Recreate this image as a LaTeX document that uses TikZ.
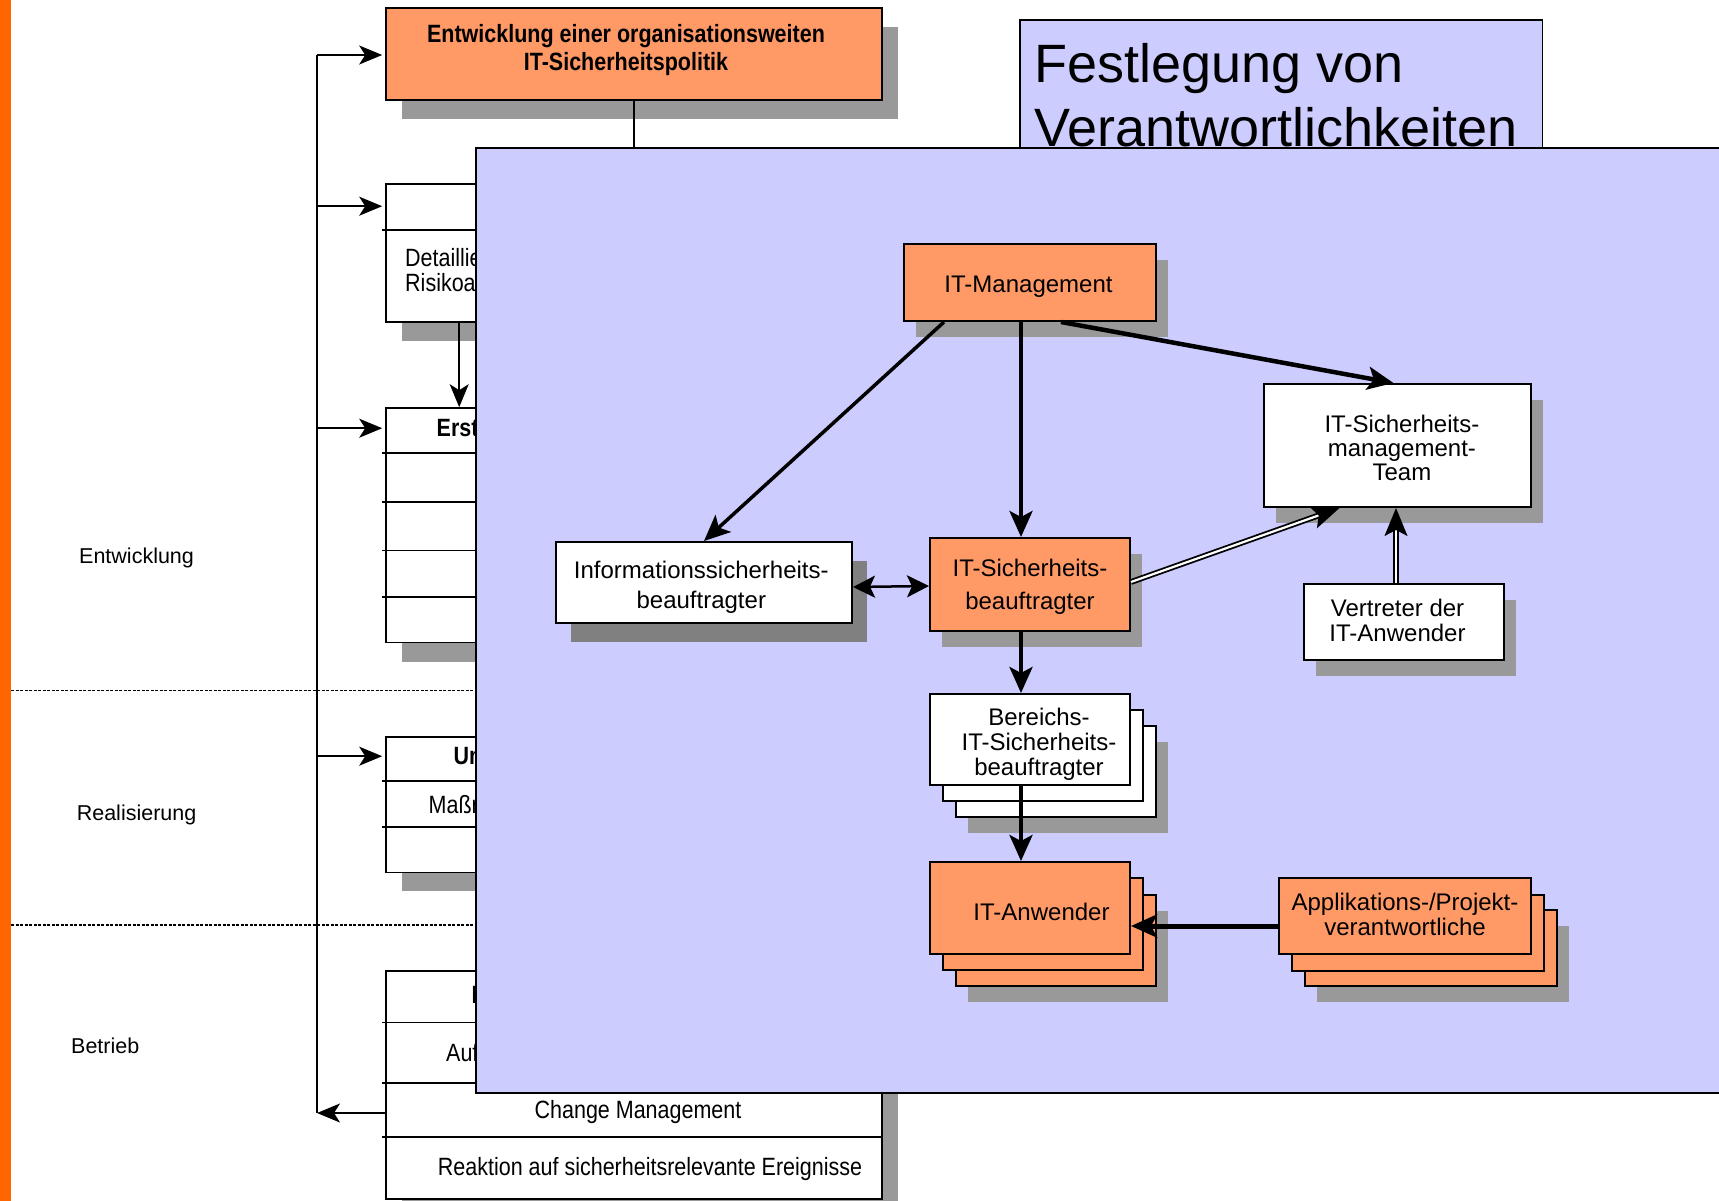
\documentclass[tikz,border=0pt]{standalone}
\usepackage{fontspec}
\setmainfont{Liberation Sans}
\newfontfamily\narrowfont[FakeStretch=0.86]{Liberation Sans}
\usetikzlibrary{arrows.meta,shadows}
\definecolor{panelblue}{HTML}{CCCCFF}
\definecolor{boxorange}{HTML}{FF9966}
\definecolor{barorange}{HTML}{FF6600}
\definecolor{shadowgray}{HTML}{999999}
\definecolor{deepshadow}{HTML}{808080}
\tikzset{
  colbox/.style={draw=black, line width=1.6pt, fill=white, inner sep=0pt,
    minimum width=496pt,
    drop shadow={shadow xshift=16pt, shadow yshift=-19pt, fill=shadowgray, opacity=1}},
  rowline/.style={line width=1.6pt, shorten <=-3pt},
  coltext/.style={inner sep=0pt, font=\narrowfont\fontsize{25}{30}\selectfont},
  colhead/.style={inner sep=0pt, font=\narrowfont\bfseries\fontsize{25}{30}\selectfont},
  phase/.style={inner sep=0pt, anchor=base west, font=\fontsize{21.5}{26}\selectfont},
  spineline/.style={line width=1.6pt},
  thinarrow/.style={line width=1.6pt, -{Stealth[length=23pt, width=19pt, inset=6pt]}},
  phasesep/.style={line width=1.2pt, dash pattern=on 3pt off 1.5pt},
  orgbox/.style={draw=black, line width=2pt, inner sep=0pt},
  orgtext/.style={inner sep=0pt, align=center, font=\fontsize{24}{25}\selectfont},
  withshadow/.style={drop shadow={shadow xshift=12pt, shadow yshift=-16pt, fill=shadowgray, opacity=1}},
  orgarrow/.style={line width=4pt, -{Stealth[length=26pt, width=23pt, inset=6pt]}},
  dblarrow/.style={double=white, double distance=2.2pt, line width=1.8pt,
    -{Stealth[length=28pt, width=23pt, inset=6pt]}},
}
\begin{document}
\begin{tikzpicture}[x=1pt, y=-1pt]
\useasboundingbox (0,0) rectangle (1719,1201);
\clip (0,0) rectangle (1719,1201);
\fill[white] (0,0) rectangle (1719,1201);

% orange margin bar
\fill[barorange] (0,0) rectangle (11,1201);

% phase separators and phase names
\draw[phasesep] (11,690.5) -- (476,690.5);
\draw[phasesep] (11,925) -- (476,925);
\node[phase] (phEnt) at (79,563) {Entwicklung};
\node[phase] (phReal) at (76.6,820.7) {Realisierung};
\node[phase] (phBet) at (71,1053.3) {Betrieb};

% process column
\node[colbox, minimum height=92pt, fill=boxorange] (top) at (634,54) {};
\node[colhead, anchor=base] (ttop1) at (626,42.7) {Entwicklung einer organisationsweiten};
\node[colhead, anchor=base] (ttop2) at (626,71) {IT-Sicherheitspolitik};

\node[colbox, minimum height=138pt] (det) at (634,253) {};
\draw[rowline] (det.west |- 0,230) -- (det.east |- 0,230);
\node[coltext, anchor=base west] (tdet1) at (405,266) {Detaillierte};
\node[coltext, anchor=base west] (tdet2) at (405,291.5) {Risikoanalyse};

\node[colbox, minimum height=234.5pt] (erst) at (634,525.25) {};
\foreach \yy in {452.7,502,550.5,596.8}
  \draw[rowline] (erst.west |- 0,\yy) -- (erst.east |- 0,\yy);
\node[colhead, anchor=base west] (terst) at (436.5,436.7) {Erstellung};

\node[colbox, minimum height=135.4pt] (um) at (634,804.7) {};
\foreach \yy in {780.8,826.7}
  \draw[rowline] (um.west |- 0,\yy) -- (um.east |- 0,\yy);
\node[colhead, anchor=base west] (tum) at (453.5,764) {Umsetzung};
\node[coltext, anchor=base west] (tmass) at (428.5,813.4) {Maßnahmen};

\node[colbox, minimum height=228.2pt] (bet) at (634,1084.9) {};
\foreach \yy in {1022.5,1083,1137}
  \draw[rowline] (bet.west |- 0,\yy) -- (bet.east |- 0,\yy);
\node[colhead, anchor=base west] (tbet) at (471.5,1003) {IT};
\node[coltext, anchor=base west] (tauf) at (446,1061.7) {Aufrechterhaltung};
\node[coltext, anchor=base] (tchg) at (638,1118.3) {Change Management};
\node[coltext, anchor=base] (treak) at (650,1175) {Reaktion auf sicherheitsrelevante Ereignisse};

% feedback loop on the left
\coordinate (spineTop) at (317,55);
\coordinate (spineBot) at (317,1113);
\coordinate (detIn) at ([yshift=-23pt]det.north west);
\coordinate (erstIn) at ([yshift=-21pt]erst.north west);
\coordinate (umIn) at ([yshift=-20pt]um.north west);
\coordinate (betOut) at (bet.west |- spineBot);
\draw[spineline] (spineTop) -- (spineBot);
\draw[thinarrow, shorten >=3pt] (spineTop) -- (spineTop -| top.west);
\draw[thinarrow, shorten >=3pt] (spineTop |- detIn) -- (detIn);
\draw[thinarrow, shorten >=3pt] (spineTop |- erstIn) -- (erstIn);
\draw[thinarrow, shorten >=3pt] (spineTop |- umIn) -- (umIn);
\draw[thinarrow] (betOut) -- (spineBot);
\draw[thinarrow] ([xshift=74pt]det.south west) -- ([xshift=74pt]erst.north west);

% heading box behind the organisation panel
\node[draw=black, line width=1.5pt, fill=panelblue, minimum width=522.5pt,
      minimum height=140pt, inner sep=0pt] (head) at (1281.25,90) {};
\node[inner sep=0pt, anchor=base west, font=\fontsize{54}{63}\selectfont] (head1) at (1034.5,83) {Festlegung von};
\node[inner sep=0pt, anchor=base west, font=\fontsize{54}{63}\selectfont] (head2) at (1034.5,146.5) {Verantwortlichkeiten};

% organisation panel
\node[draw=black, line width=2.5pt, fill=panelblue, minimum width=1264pt,
      minimum height=945pt, inner sep=0pt] (panel) at (1108,620.5) {};
\draw[line width=1.4pt] (top.south) -- (top.south |- panel.north);

% roles
\node[orgbox, withshadow, fill=boxorange, minimum width=252pt, minimum height=77pt] (itm) at (1030,282.5) {};
\node[orgtext] (itm-l) at ([xshift=-1.5pt, yshift=-4.3pt]itm.center) {IT-Management};

\node[orgbox, fill=white, minimum width=296pt, minimum height=81pt,
      drop shadow={shadow xshift=15pt, shadow yshift=-19pt, fill=deepshadow, opacity=1}] (info) at (704,582.5) {};
\node[orgtext, font=\fontsize{24}{30}\selectfont] (info-l) at ([xshift=-2.7pt, yshift=-4.4pt]info.center) {Informationssicherheits-\\beauftragter};

\node[orgbox, withshadow, fill=boxorange, minimum width=200pt, minimum height=93pt] (itsb) at (1030,584.5) {};
\node[orgtext, font=\fontsize{24}{33}\selectfont] (itsb-l) at ([yshift=-2.7pt]itsb.center) {IT-Sicherheits-\\beauftragter};

\node[orgbox, withshadow, fill=white, minimum width=267pt, minimum height=123pt] (team) at (1397.5,445.5) {};
\node[orgtext, font=\fontsize{24}{24}\selectfont] (team-l) at ([xshift=4.4pt, yshift=-2.2pt]team.center) {IT-Sicherheits-\\management-\\Team};

\node[orgbox, withshadow, fill=white, minimum width=200pt, minimum height=76pt] (vert) at (1404,622) {};
\node[orgtext] (vert-l) at ([xshift=-6.5pt, yshift=1.6pt]vert.center) {Vertreter der\\IT-Anwender};

\node[orgbox, withshadow, fill=white, minimum width=200pt, minimum height=91pt] (ber3) at (1056,771) {};
\node[orgbox, fill=white, minimum width=200pt, minimum height=91pt] (ber2) at (1043,755) {};
\node[orgbox, fill=white, minimum width=200pt, minimum height=91pt] (ber) at (1030,739.5) {};
\node[orgtext] (ber-l) at (1039,744) {Bereichs-\\IT-Sicherheits-\\beauftragter};

\node[orgbox, withshadow, fill=boxorange, minimum width=200pt, minimum height=91pt] (anw3) at (1056,940) {};
\node[orgbox, fill=boxorange, minimum width=200pt, minimum height=92pt] (anw2) at (1043,924) {};
\node[orgbox, fill=boxorange, minimum width=200pt, minimum height=92pt] (anw) at (1030,908) {};
\node[orgtext] (anw-l) at (1041.5,912) {IT-Anwender};

\node[orgbox, withshadow, fill=boxorange, minimum width=252pt, minimum height=76pt] (app3) at (1431,948) {};
\node[orgbox, fill=boxorange, minimum width=252pt, minimum height=76pt] (app2) at (1418,932.5) {};
\node[orgbox, fill=boxorange, minimum width=252pt, minimum height=76pt] (app) at (1405,916) {};
\node[orgtext] (app-l) at ([yshift=1.6pt]app.center) {Applikations-/Projekt-\\verantwortliche};

% reporting lines
\coordinate (appOut) at ([yshift=-10pt]app.west);
\draw[orgarrow, line width=3.5pt] ([xshift=41pt]itm.south west) -- (info.north);
\draw[orgarrow] ([xshift=-9pt]itm.south) -- ([xshift=-9pt]itsb.north);
\draw[orgarrow, line width=4.5pt] ([xshift=31pt]itm.south) -- ([xshift=-4pt]team.north);
\draw[line width=2.5pt, {Stealth[length=22pt, width=22pt, inset=5pt]}-{Stealth[length=22pt, width=22pt, inset=5pt]}]
  ([yshift=-4.5pt]info.east) -- ([yshift=-1.5pt]itsb.west);
\draw[dblarrow] ([yshift=2.5pt]itsb.east) -- ([xshift=-58pt]team.south);
\draw[dblarrow] ([xshift=-8pt]vert.north) -- ([xshift=-8pt]vert.north |- team.south);
\draw[orgarrow] ([xshift=-9pt]itsb.south) -- ([xshift=-9pt]ber.north);
\draw[orgarrow] ([xshift=-9pt]ber.south) -- ([xshift=-9pt]anw.north);
\draw[orgarrow, line width=5pt] (appOut) -- (anw.east |- appOut);
\end{tikzpicture}
\end{document}
